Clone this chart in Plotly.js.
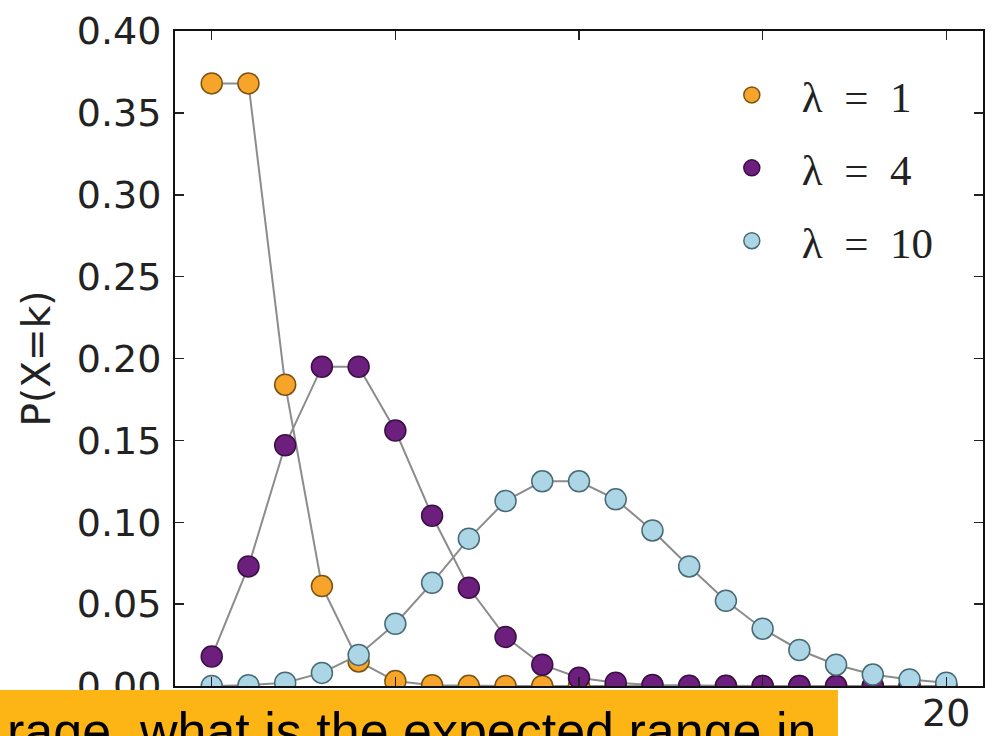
<!DOCTYPE html>
<html>
<head>
<meta charset="utf-8">
<script src="https://cdn.plot.ly/plotly-3.0.1.min.js"></script>
<style>
  html, body { margin: 0; padding: 0; background: #ffffff; }
  #chart { width: 992px; height: 736px; }
</style>
</head>
<body>
<div id="chart"></div>
<script>
// Poisson probabilities P(X=k) for k = 0..20
const kValues = [0, 1, 2, 3, 4, 5, 6, 7, 8, 9, 10, 11, 12, 13, 14, 15, 16, 17, 18, 19, 20];
const pLambda1 = [0.368, 0.368, 0.184, 0.061, 0.015, 0.003, 0.0005, 0.0001, 0, 0, 0, 0, 0, 0, 0, 0, 0, 0, 0, 0, 0];
const pLambda4 = [0.018, 0.073, 0.147, 0.195, 0.195, 0.156, 0.104, 0.060, 0.030, 0.013, 0.005, 0.002, 0.0006, 0.0002, 0.0001, 0, 0, 0, 0, 0, 0];
const pLambda10 = [0.00005, 0.0005, 0.002, 0.008, 0.019, 0.038, 0.063, 0.090, 0.113, 0.125, 0.125, 0.114, 0.095, 0.073, 0.052, 0.035, 0.022, 0.013, 0.007, 0.004, 0.002];

// legend labels, with en spaces around the equals sign
const seriesNames = ['λ\u2002=\u20021', 'λ\u2002=\u20024', 'λ\u2002=\u200210'];
const xTickValues = [0, 5, 10, 15, 20];
// only the last x label stays visible; the others sit under the caption bar
const xTickLabels = ['', '', '', '', '20'];
const yTickValues = [0.00, 0.05, 0.10, 0.15, 0.20, 0.25, 0.30, 0.35, 0.40];
const yAxisLabel = 'P(X=k)';
const bannerText = 'rage, what is the expected range in';

const fills = ['#f7a52a', '#6c1f7d', '#acd6e6'];
const edges = ['#7a5212', '#3a0f45', '#476a75'];
const seriesData = [pLambda1, pLambda4, pLambda10];

const traces = [];
seriesData.forEach((ys, i) => {
  // connecting line (kept out of the legend)
  traces.push({
    x: kValues, y: ys, type: 'scatter', mode: 'lines',
    line: { color: '#8c8c8c', width: 2 }, cliponaxis: true,
    showlegend: false, hoverinfo: 'skip', legendgroup: 'g' + i
  });
  // circular markers
  traces.push({
    x: kValues, y: ys, type: 'scatter', mode: 'markers', cliponaxis: true,
    name: seriesNames[i], legendgroup: 'g' + i,
    marker: { size: 21, color: fills[i], line: { color: edges[i], width: 1.5 } }
  });
});

const tickFont = { family: 'DejaVu Sans', size: 38, color: '#222222' };

const layout = {
  width: 992, height: 736,
  margin: { l: 175, r: 9, t: 31, b: 50, pad: 0 },
  paper_bgcolor: '#ffffff', plot_bgcolor: '#ffffff',
  showlegend: true,
  legend: {
    x: 0.652, y: 0.955, xanchor: 'left', yanchor: 'top',
    bgcolor: 'rgba(0,0,0,0)', borderwidth: 0,
    font: { family: 'Liberation Serif', size: 43, color: '#222222' },
    tracegroupgap: 14, itemwidth: 90
  },
  xaxis: {
    range: [-1, 21], tickvals: xTickValues, ticktext: xTickLabels,
    ticks: 'inside', ticklen: 9, tickwidth: 1.5, tickcolor: '#222222',
    showline: true, linecolor: '#111111', linewidth: 2, mirror: 'allticks',
    showgrid: false, zeroline: false, tickfont: tickFont, ticklabelstandoff: -8
  },
  yaxis: {
    range: [0, 0.4], tickvals: yTickValues, ticktext: yTickValues.map(v => v.toFixed(2)),
    ticks: 'inside', ticklen: 9, tickwidth: 1.5, tickcolor: '#222222',
    showline: true, linecolor: '#111111', linewidth: 2, mirror: 'allticks',
    showgrid: false, zeroline: false, tickfont: tickFont, ticklabelstandoff: 4,
    title: { text: yAxisLabel, font: { family: 'DejaVu Sans', size: 39, color: '#222222' }, standoff: 14 }
  },
  shapes: [{
    type: 'rect', xref: 'paper', yref: 'paper', layer: 'above',
    x0: -0.2166, x1: 0.8205, y0: -0.09, y1: -0.0061,
    fillcolor: '#fdb515', line: { width: 0 }
  }],
  annotations: [{
    xref: 'paper', yref: 'paper', x: -0.2104, y: -0.0214,
    xanchor: 'left', yanchor: 'top', showarrow: false,
    text: bannerText,
    font: { family: 'Liberation Sans', size: 52, color: '#000000' }
  }]
};

Plotly.newPlot('chart', traces, layout, { displayModeBar: false, staticPlot: true });
</script>
</body>
</html>
